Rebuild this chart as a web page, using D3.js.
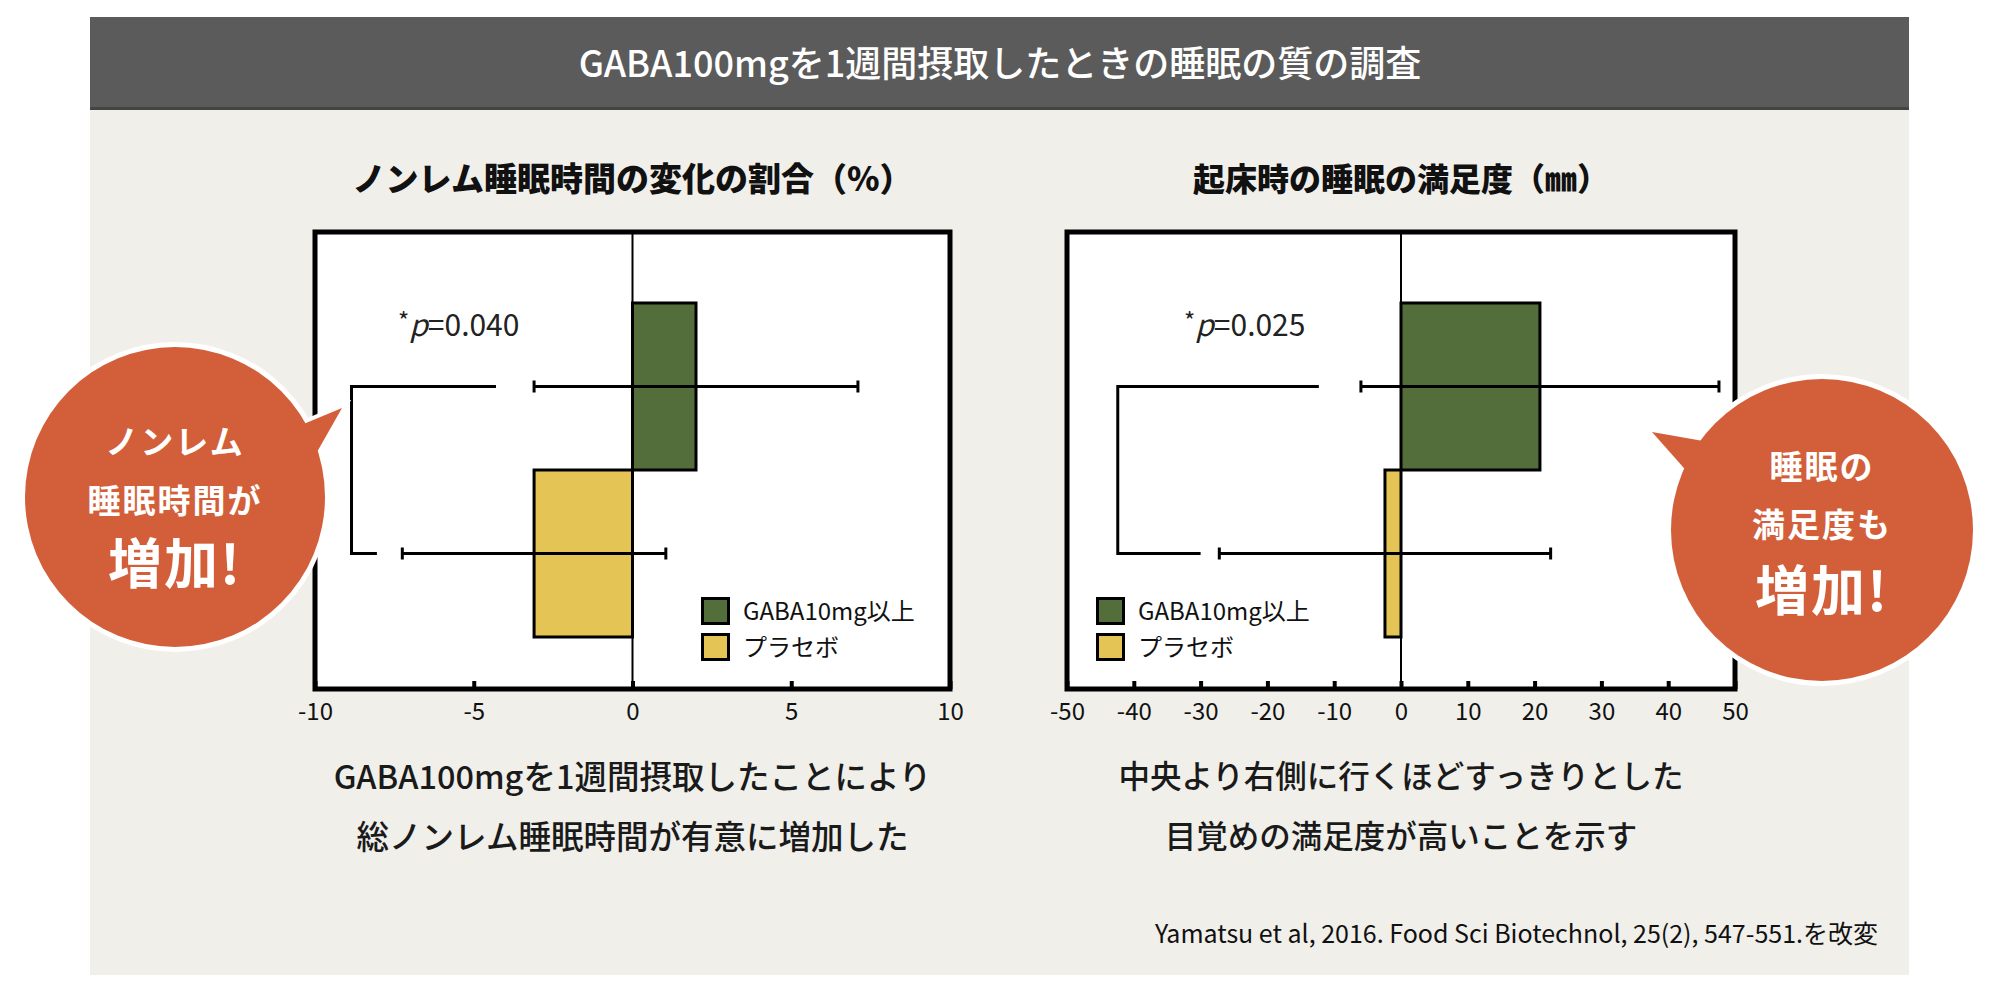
<!DOCTYPE html>
<html><head><meta charset="utf-8">
<script src="https://cdn.jsdelivr.net/npm/d3@7"></script>
<style>
html,body{margin:0;padding:0;background:#fff;}
svg{display:block;}
text{font-family:"Noto Sans CJK JP","Noto Sans",sans-serif;}
</style></head>
<body>
<script>
// ---------------- data ----------------
const titleText = "GABA100mgを1週間摂取したときの睡眠の質の調査";
const categories = ["GABA10mg以上", "プラセボ"];
const nremTitle = "ノンレム睡眠時間の変化の割合（%）";
const nremMeans = [2.0, -3.1];
const nremErrors = [5.1, 4.15];
const nremDomain = [-10, 10];
const nremTicks = [-10, -5, 0, 5, 10];
const nremP = "0.040";
const nremBracket = [-8.85, -4.3, -8.05];   // vertical x, top end, bottom end
const nremCaption = ["GABA100mgを1週間摂取したことにより", "総ノンレム睡眠時間が有意に増加した"];

const satTitle = "起床時の睡眠の満足度（㎜）";
const satMeans = [20.8, -2.4];
const satErrors = [26.8, 24.8];
const satDomain = [-50, 50];
const satTicks = [-50, -40, -30, -20, -10, 0, 10, 20, 30, 40, 50];
const satP = "0.025";
const satBracket = [-42.4, -12.3, -30.0];
const satCaption = ["中央より右側に行くほどすっきりとした", "目覚めの満足度が高いことを示す"];

const bubbleLeft = ["ノンレム", "睡眠時間が", "増加!"];
const bubbleRight = ["睡眠の", "満足度も", "増加!"];
const sourceText = "Yamatsu et al, 2016. Food Sci Biotechnol, 25(2), 547-551.を改変";

const colors = ["#546e3b", "#e3c455"];

// ---------------- layout ----------------
const W = 2000, H = 999;
const svg = d3.select("body").append("svg").attr("width", W).attr("height", H);

// panel background
svg.append("rect").attr("x", 90).attr("y", 110).attr("width", 1819).attr("height", 865).attr("fill", "#f0efea");
// title bar
svg.append("rect").attr("x", 90).attr("y", 17).attr("width", 1819).attr("height", 93).attr("fill", "#5b5b5b");
svg.append("rect").attr("x", 90).attr("y", 107).attr("width", 1819).attr("height", 3).attr("fill", "#444");
svg.append("text").attr("x", 1000).attr("y", 64).attr("dy", "0.36em")
  .attr("text-anchor", "middle").attr("fill", "#fff").attr("font-size", 36).attr("font-weight", 500)
  .text(titleText);

function drawPanel(cfg) {
  const g = svg.append("g");
  const x = d3.scaleLinear().domain(cfg.domain).range([cfg.left, cfg.right]);
  const top = 232, bottom = 689;
  const y = d3.scaleBand().domain(categories).range([top + 71, bottom - 52]).padding(0);

  // chart title
  g.append("text").attr("x", (cfg.left + cfg.right) / 2).attr("y", 179).attr("dy", "0.36em")
    .attr("text-anchor", "middle").attr("font-size", cfg.titleSize).attr("font-weight", 900).attr("fill", "#111")
    .text(cfg.title);

  // plot bg
  g.append("rect").attr("x", cfg.left).attr("y", top).attr("width", cfg.right - cfg.left)
    .attr("height", bottom - top).attr("fill", "#fff");

  // zero line
  g.append("line").attr("x1", x(0)).attr("x2", x(0)).attr("y1", top).attr("y2", bottom)
    .attr("stroke", "#000").attr("stroke-width", 2);

  // bars
  g.selectAll("rect.bar").data(cfg.means).join("rect").attr("class", "bar")
    .attr("x", d => x(Math.min(0, d))).attr("width", d => Math.abs(x(d) - x(0)))
    .attr("y", (d, i) => y(categories[i])).attr("height", y.bandwidth())
    .attr("fill", (d, i) => colors[i]).attr("stroke", "#000").attr("stroke-width", 3);

  // error bars
  cfg.means.forEach((m, i) => {
    const cy = y(categories[i]) + y.bandwidth() / 2;
    const e = cfg.errors[i];
    g.append("line").attr("x1", x(m - e)).attr("x2", x(m + e)).attr("y1", cy).attr("y2", cy)
      .attr("stroke", "#000").attr("stroke-width", 3);
    [m - e, m + e].forEach(v => {
      g.append("line").attr("x1", x(v)).attr("x2", x(v)).attr("y1", cy - 6).attr("y2", cy + 6)
        .attr("stroke", "#000").attr("stroke-width", 3);
    });
  });

  // significance bracket
  const yTop = y(categories[0]) + y.bandwidth() / 2;
  const yBot = y(categories[1]) + y.bandwidth() / 2;
  const b = cfg.bracket;
  g.append("path")
    .attr("d", `M${x(b[1])},${yTop}H${x(b[0])}V${yBot}H${x(b[2])}`)
    .attr("fill", "none").attr("stroke", "#000").attr("stroke-width", 3);

  // p-value
  const pt = g.append("text").attr("x", cfg.pX).attr("y", 336).attr("font-size", 30).attr("fill", "#222");
  pt.append("tspan").attr("font-size", 24).attr("dy", -6).text("*");
  pt.append("tspan").attr("font-style", "italic").attr("dy", 6).text("p");
  pt.append("tspan").text("=" + cfg.p);

  // legend
  const lg = g.append("g").attr("transform", `translate(${cfg.legendX},597)`);
  categories.forEach((c, i) => {
    lg.append("rect").attr("x", 1.5).attr("y", i * 36 + 1.5).attr("width", 26).attr("height", 25)
      .attr("fill", colors[i]).attr("stroke", "#000").attr("stroke-width", 3);
    lg.append("text").attr("x", 42).attr("y", i * 36 + 14).attr("dy", "0.36em")
      .attr("font-size", 24).attr("fill", "#111").text(c);
  });

  // frame
  g.append("rect").attr("x", cfg.left).attr("y", top).attr("width", cfg.right - cfg.left)
    .attr("height", bottom - top).attr("fill", "none").attr("stroke", "#000").attr("stroke-width", 5);

  // axis
  const ax = g.append("g").attr("transform", `translate(0,${bottom})`)
    .call(d3.axisBottom(x).tickValues(cfg.ticks).tickSize(-8).tickPadding(14).tickFormat(d3.format("d")));
  ax.select(".domain").remove();
  ax.selectAll(".tick line").attr("stroke", "#000").attr("stroke-width", 4);
  ax.selectAll(".tick text").attr("font-size", 24).attr("fill", "#111")
    .attr("font-family", '"Noto Sans CJK JP",sans-serif').text(d => d < 0 ? "-" + Math.abs(d) : d);

  // caption
  cfg.caption.forEach((t, i) => {
    g.append("text").attr("x", (cfg.left + cfg.right) / 2).attr("y", 777 + i * 60).attr("dy", "0.36em")
      .attr("text-anchor", "middle").attr("font-size", cfg.capSize).attr("font-weight", 500).attr("fill", "#1a1a1a")
      .text(t);
  });
}

drawPanel({left: 315, right: 950, domain: nremDomain, ticks: nremTicks, means: nremMeans, errors: nremErrors,
  bracket: nremBracket, p: nremP, pX: 398, legendX: 701, title: nremTitle, caption: nremCaption, titleSize: 33, capSize: 32.5});
drawPanel({left: 1067, right: 1735, domain: satDomain, ticks: satTicks, means: satMeans, errors: satErrors,
  bracket: satBracket, p: satP, pX: 1184, legendX: 1096, title: satTitle, caption: satCaption, titleSize: 32, capSize: 31.5});

// source
svg.append("text").attr("x", 1878).attr("y", 934).attr("dy", "0.36em").attr("text-anchor", "end")
  .attr("font-size", 25).attr("fill", "#111").text(sourceText);

// bubbles
function bubble(cx, cy, r, tail, lines, ys) {
  const g = svg.append("g");
  const tailPath = "M" + tail.map(p => p.join(",")).join("L") + "Z";
  g.append("circle").attr("cx", cx).attr("cy", cy).attr("r", r).attr("fill", "#fff").attr("stroke", "#fff").attr("stroke-width", 10);
  g.append("path").attr("d", tailPath).attr("fill", "#fff").attr("stroke", "#fff").attr("stroke-width", 8).attr("stroke-linejoin", "miter");
  g.append("circle").attr("cx", cx).attr("cy", cy).attr("r", r).attr("fill", "#d35f3a");
  g.append("path").attr("d", tailPath).attr("fill", "#d35f3a");
  lines.forEach((t, i) => {
    g.append("text").attr("x", cx).attr("y", ys[i]).attr("dy", "0.36em").attr("text-anchor", "middle")
      .attr("fill", "#fff").attr("font-weight", 700)
      .attr("font-size", i === 2 ? 54 : 33).attr("letter-spacing", 2)
      .text(t);
  });
}
bubble(175, 497, 150, [[342, 408], [270, 438], [300, 482]], bubbleLeft, [442, 501, 565]);
bubble(1822, 530, 151, [[1652, 432], [1760, 451], [1730, 520]], bubbleRight, [467, 525, 592]);
</script>
</body></html>
